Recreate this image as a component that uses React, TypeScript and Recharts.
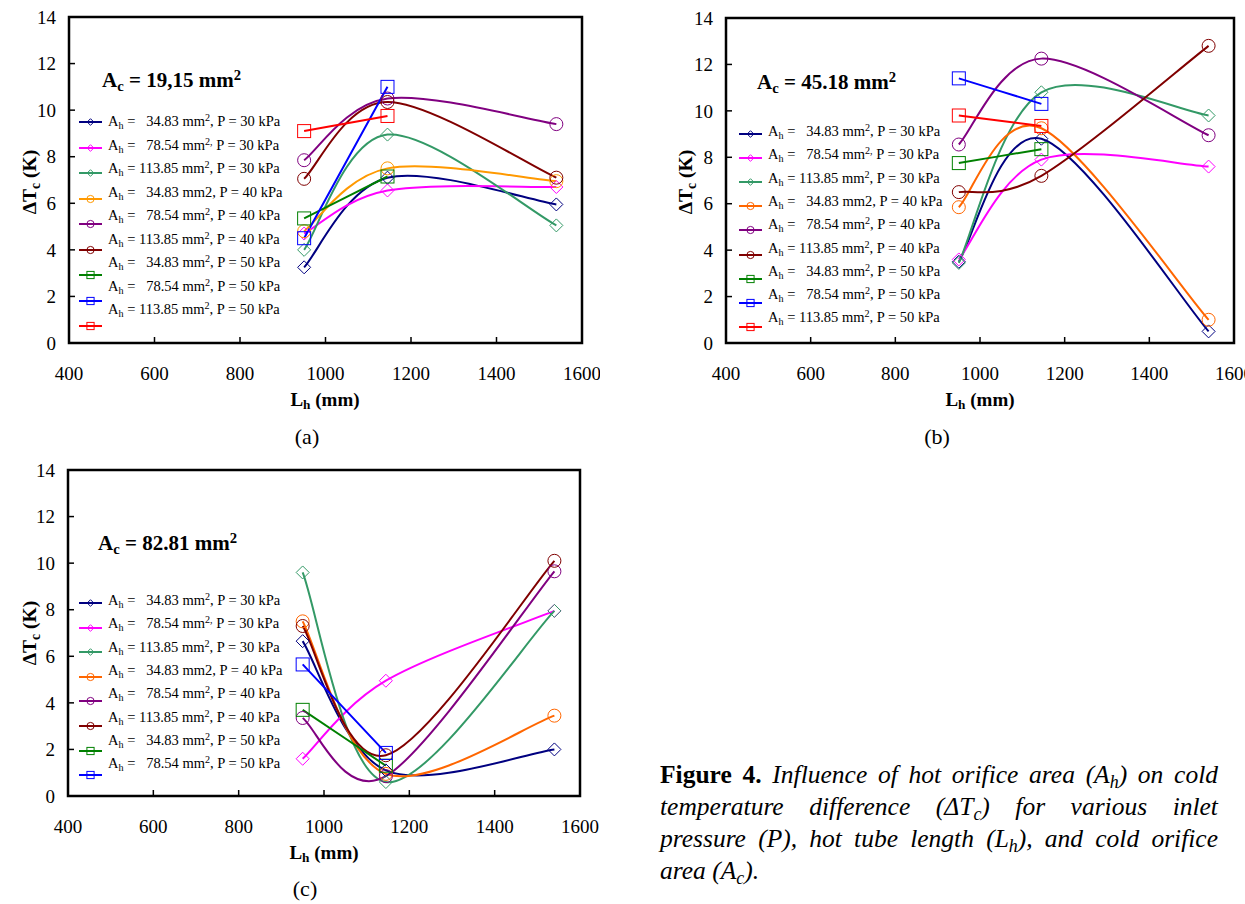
import React from "react";
import { LineChart, Line, XAxis, YAxis, ReferenceArea } from "recharts";

// hot tube lengths (mm) and axis ticks
const lengths = [950, 1145, 1540];
const xTicks = [400, 600, 800, 1000, 1200, 1400, 1600];
const yTicks = [0, 2, 4, 6, 8, 10, 12, 14];

// legend entries (hot orifice area, inlet pressure)
const areas = ["\u00a034.83", "\u00a078.54", "113.85", "\u00a034.83", "\u00a078.54", "113.85", "\u00a034.83", "\u00a078.54", "113.85"];
const pressures = [30, 30, 30, 40, 40, 40, 50, 50, 50];
const markers = ["diamond", "diamond", "diamond", "circle", "circle", "circle", "square", "square", "square"];

const colorsA = ["#000080", "#FF00FF", "#339966", "#FF9900", "#800080", "#800000", "#008000", "#0000FF", "#FF0000"];
const colorsBC = ["#000080", "#FF00FF", "#339966", "#FF6600", "#800080", "#800000", "#008000", "#0000FF", "#FF0000"];

// ΔTc (K) at each length, one row per series
const valuesA = [
  [3.25, 7.1, 5.95],
  [4.7, 6.55, 6.7],
  [4.0, 8.95, 5.05],
  [4.8, 7.5, 6.95],
  [7.85, 10.5, 9.4],
  [7.05, 10.35, 7.1],
  [5.35, 7.15, null],
  [4.5, 11.0, null],
  [9.1, 9.75, null],
];

const valuesB = [
  [3.5, 8.8, 0.5],
  [3.6, 7.9, 7.6],
  [3.45, 10.8, 9.8],
  [5.85, 9.25, 1.0],
  [8.55, 12.25, 8.95],
  [6.5, 7.2, 12.8],
  [7.75, 8.35, null],
  [11.4, 10.3, null],
  [9.8, 9.35, null],
];

const valuesC = [
  [6.65, 1.1, 2.0],
  [1.6, 4.95, 7.95],
  [9.6, 0.6, 7.95],
  [7.5, 0.95, 3.45],
  [3.35, 0.85, 9.65],
  [7.3, 1.75, 10.1],
  [3.7, 1.3, null],
  [5.65, 1.85, null],
];

const serif = "'Liberation Serif', 'Times New Roman', serif";

// smoothed line like a spreadsheet "smoothed line" (catmull-rom as beziers)
function smoothCurve(context: any) {
  let pts: number[][] = [];
  return {
    areaStart() {},
    areaEnd() {},
    lineStart() {
      pts = [];
    },
    point(x: number, y: number) {
      pts.push([+x, +y]);
    },
    lineEnd() {
      const n = pts.length;
      if (!n) return;
      context.moveTo(pts[0][0], pts[0][1]);
      for (let i = 0; i < n - 1; i++) {
        const p0 = pts[Math.max(i - 1, 0)];
        const p1 = pts[i];
        const p2 = pts[i + 1];
        const p3 = pts[Math.min(i + 2, n - 1)];
        context.bezierCurveTo(
          p1[0] + (p2[0] - p0[0]) / 6,
          p1[1] + (p2[1] - p0[1]) / 6,
          p2[0] - (p3[0] - p1[0]) / 6,
          p2[1] - (p3[1] - p1[1]) / 6,
          p2[0],
          p2[1]
        );
      }
    },
  };
}

function Marker({ shape, cx, cy, r, color }: any) {
  if (shape === "diamond")
    return (
      <path
        d={`M${cx},${cy - r}L${cx + r},${cy}L${cx},${cy + r}L${cx - r},${cy}Z`}
        fill="none"
        stroke={color}
        strokeWidth={1}
      />
    );
  if (shape === "circle") return <circle cx={cx} cy={cy} r={r} fill="none" stroke={color} strokeWidth={1} />;
  return <rect x={cx - r} y={cy - r} width={r * 2} height={r * 2} fill="none" stroke={color} strokeWidth={1} />;
}

const sub = { fontSize: "0.7em", verticalAlign: "-0.3em", lineHeight: 0 };
const sup = { fontSize: "0.7em", verticalAlign: "0.45em", lineHeight: 0 };

function AreaLabel({ i }: { i: number }) {
  let unit: React.ReactNode = (
    <>
      mm<span style={sup}>2</span>,
    </>
  );
  if (i === 1)
    unit = (
      <>
        mm<span style={sup}>2,</span>
      </>
    );
  if (i === 3) unit = <>mm2,</>;
  return (
    <span>
      A<span style={sub}>h</span>
      {i % 3 === 2 ? " = " : " =  "}
      {areas[i]} {unit} P = {pressures[i]} kPa
    </span>
  );
}

function Legend({ count, colors, sampleX, textX, sampleY, sampleStep, textY, textStep }: any) {
  const items = [];
  for (let i = 0; i < count; i++) {
    const sy = sampleY + i * sampleStep;
    const ty = textY + i * textStep;
    items.push(
      <svg key={`s${i}`} width={26} height={12} style={{ position: "absolute", left: sampleX, top: sy - 6 }}>
        <line x1={1} y1={6} x2={24} y2={6} stroke={colors[i]} strokeWidth={2} />
        <Marker shape={markers[i]} cx={12.5} cy={6} r={markers[i] === "diamond" ? 3.3 : 3.6} color={colors[i]} />
      </svg>
    );
    items.push(
      <div
        key={`t${i}`}
        style={{
          position: "absolute",
          left: textX,
          top: ty - 10,
          height: 20,
          lineHeight: "20px",
          fontSize: 14.5,
          whiteSpace: "pre",
          color: "#000",
        }}
      >
        <AreaLabel i={i} />
      </div>
    );
  }
  return <>{items}</>;
}

function Panel({ left, top, width, height, margin, values, colors }: any) {
  const data = lengths.map((L, i) => {
    const row: any = { L };
    values.forEach((v: (number | null)[], k: number) => {
      row[`s${k}`] = v[i];
    });
    return row;
  });
  return (
    <div style={{ position: "absolute", left, top, width, height }}>
      <LineChart width={width} height={height} data={data} margin={margin}>
        <XAxis
          dataKey="L"
          type="number"
          domain={[400, 1600]}
          ticks={xTicks}
          axisLine={false}
          tickSize={-6}
          tickMargin={30}
          tickLine={{ stroke: "#000", strokeWidth: 1.5 }}
          tick={{ fill: "#000", fontSize: 19, fontFamily: serif }}
          height={30}
          interval={0}
        />
        <YAxis
          type="number"
          domain={[0, 14]}
          ticks={yTicks}
          axisLine={false}
          tickSize={-6}
          tickMargin={19}
          tickLine={{ stroke: "#000", strokeWidth: 1.5 }}
          tick={{ fill: "#000", fontSize: 19, fontFamily: serif }}
          width={60}
          interval={0}
        />
        {values.map((_: any, k: number) => (
          <Line
            key={k}
            dataKey={`s${k}`}
            type={smoothCurve as any}
            stroke={colors[k]}
            strokeWidth={2}
            isAnimationActive={false}
            dot={(p: any) =>
              p.cy == null || p.value == null ? (
                <g key={p.index} />
              ) : (
                <g key={p.index}>
                  <Marker shape={markers[k]} cx={p.cx} cy={p.cy} r={6.5} color={colors[k]} />
                </g>
              )
            }
            activeDot={false}
          />
        ))}
        <ReferenceArea x1={400} x2={1600} y1={0} y2={14} fill="none" stroke="#000" strokeWidth={2.5} ifOverflow="visible" />
      </LineChart>
    </div>
  );
}

function Text({ x, y, children, size = 17, bold = false, anchor = "center", rotate = false }: any) {
  const tx = anchor === "center" ? "-50%" : "0";
  return (
    <div
      style={{
        position: "absolute",
        left: x,
        top: y,
        transform: `translate(${tx}, -50%)${rotate ? " rotate(-90deg)" : ""}`,
        transformOrigin: anchor === "center" ? "center" : "left center",
        fontSize: size,
        fontWeight: bold ? "bold" : "normal",
        whiteSpace: "pre",
        lineHeight: 1,
      }}
    >
      {children}
    </div>
  );
}

const YTitle = () => (
  <>
    ΔT<span style={sub}>c</span> (K)
  </>
);
const XTitle = () => (
  <>
    L<span style={sub}>h</span> (mm)
  </>
);
const AcTitle = ({ v }: { v: string }) => (
  <>
    A<span style={sub}>c</span> = {v} mm<span style={sup}>2</span>
  </>
);

// caption, one array of words per printed line
const captionLines: React.ReactNode[][] = [
  [
    <b style={{ fontStyle: "normal" }}>Figure</b>,
    <b style={{ fontStyle: "normal" }}>4.</b>,
    "Influence", "of", "hot", "orifice", "area",
    <>(A<span style={sub}>h</span>)</>,
    "on", "cold",
  ],
  ["temperature", "difference", <>(ΔT<span style={sub}>c</span>)</>, "for", "various", "inlet"],
  ["pressure", "(P),", "hot", "tube", "length", <>(L<span style={sub}>h</span>),</>, "and", "cold", "orifice"],
];

export default function App() {
  const lineStyle: React.CSSProperties = {
    position: "absolute",
    left: 660,
    width: 558,
    height: 32,
    fontSize: 25.5,
    lineHeight: "32px",
    fontStyle: "italic",
    whiteSpace: "nowrap",
    display: "flex",
    justifyContent: "space-between",
  };
  return (
    <div
      style={{
        position: "absolute",
        left: 0,
        top: 0,
        width: 1245,
        height: 904,
        overflow: "hidden",
        background: "#fff",
        fontFamily: serif,
        color: "#000",
      }}
    >
      <Panel
        left={0}
        top={0}
        width={600}
        height={400}
        margin={{ top: 17, right: 18, left: 9, bottom: 27 }}
        values={valuesA}
        colors={colorsA}
      />
      <Panel
        left={660}
        top={0}
        width={585}
        height={400}
        margin={{ top: 18, right: 11, left: 6, bottom: 27 }}
        values={valuesB}
        colors={colorsBC}
      />
      <Panel
        left={0}
        top={450}
        width={600}
        height={400}
        margin={{ top: 20, right: 20, left: 8, bottom: 24 }}
        values={valuesC}
        colors={colorsBC}
      />

      <Legend count={9} colors={colorsA} sampleX={78} textX={108} sampleY={122} sampleStep={25.5} textY={121} textStep={23.5} />
      <Legend count={9} colors={colorsBC} sampleX={738} textX={768} sampleY={134} sampleStep={24.1} textY={131} textStep={23.3} />
      <Legend count={8} colors={colorsBC} sampleX={78} textX={108} sampleY={603} sampleStep={24.6} textY={600} textStep={23.3} />

      <Text x={102} y={80} bold anchor="left" size={21}>
        <AcTitle v="19,15" />
      </Text>
      <Text x={757} y={82} bold anchor="left" size={21}>
        <AcTitle v="45.18" />
      </Text>
      <Text x={98} y={543} bold anchor="left" size={21}>
        <AcTitle v="82.81" />
      </Text>

      <Text x={30} y={182} bold rotate size={19.5}>
        <YTitle />
      </Text>
      <Text x={686} y={182} bold rotate size={19.5}>
        <YTitle />
      </Text>
      <Text x={30} y={633} bold rotate size={19.5}>
        <YTitle />
      </Text>

      <Text x={325} y={399} bold size={19}>
        <XTitle />
      </Text>
      <Text x={980} y={399} bold size={19}>
        <XTitle />
      </Text>
      <Text x={324} y={852} bold size={19}>
        <XTitle />
      </Text>

      <Text x={307} y={437} size={22}>
        (a)
      </Text>
      <Text x={937} y={437} size={22}>
        (b)
      </Text>
      <Text x={305} y={889} size={22}>
        (c)
      </Text>

      {captionLines.map((words, li) => (
        <div key={li} style={{ ...lineStyle, top: 759 + li * 32 }}>
          {words.map((w, wi) => (
            <span key={wi}>{w}</span>
          ))}
        </div>
      ))}
      <div style={{ ...lineStyle, display: "block", top: 855 }}>
        area (A<span style={sub}>c</span>).
      </div>
    </div>
  );
}
